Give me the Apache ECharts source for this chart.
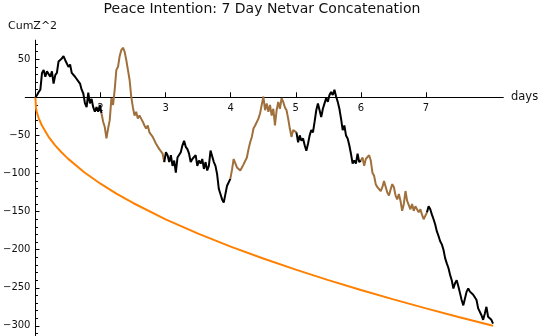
<!DOCTYPE html>
<html><head><meta charset="utf-8">
<script src="https://cdn.jsdelivr.net/npm/echarts@6/dist/echarts.min.js"></script>
<style>html,body{margin:0;padding:0;background:#fff}#c{width:540px;height:336px}</style>
</head><body><div id="c"></div>
<script>
const titleText = 'Peace Intention: 7 Day Netvar Concatenation';
const yName = 'CumZ^2';
const xName = 'days';
const xTickValues = [2, 3, 4, 5, 6, 7];
const yMajorTickValues = [-300, -250, -200, -150, -100, -50, 50];
const yLabelValues = [50, -50, -100, -150, -200, -250, -300];
const yMinorTickValues = [-310,-290,-280,-270,-260,-240,-230,-220,-210,-190,-180,-170,-160,-140,-130,-120,-110,-90,-80,-70,-60,-40,-30,-20,-10,10,20,30,40,60,70];

// cumulative walk, sampled at a regular interval starting at day 1
const walkStartDay = 1.0;
const walkStepDays = 0.02538;
const walkValues = [
  0,3,7,10,32,36,27,34,32,27,34,18,29,32,47,45,51,54,49,51,40,43,32,34,27,29,21,18,10,5,-8,-13,6,-8,-2,-13,-19,-13,-19,-10,-21,
  -32,-39,-54,-41,-30,-1,-10,10,36,40,54,62,65,60,49,36,23,1,-13,-24,-19,-28,-24,-28,-32,-37,-41,-37,-46,-48,-52,-54,-61,-63,-68,-70,-74,-85,
  -72,-76,-85,-76,-90,-83,-99,-79,-81,-72,-63,-57,-65,-68,-74,-85,-81,-83,-76,-90,-83,-87,-81,-94,-85,-96,-90,-70,-68,-85,-90,-101,-120,-127,-134,-138,-127,-116,-118,-107,
  -95,-81,-81,-92,-94,-96,-92,-88,-87,-79,-68,-59,-52,-41,-37,-39,-28,-21,-10,1,-17,-8,-19,-10,-24,-15,-37,-17,-6,-15,-1,-6,-13,-17,-28,-41,-52,-43,-41,-46,
  -59,-50,-57,-54,-63,-70,-61,-50,-43,-46,-32,-17,-8,-17,-26,-15,-8,-1,-6,3,7,3,10,1,-6,-15,-28,-43,-37,-50,-54,-63,-74,-87,-83,-87,-74,-85,-83,
  -79,-90,-81,-83,-76,-83,-99,-103,-114,-118,-116,-123,-118,-110,-112,-125,-129,-121,-114,-118,-129,-134,-127,-136,-149,-140,-123,-136,-138,-147,-140,-149,-143,-145,-151,-147,-154,-160,-158,-151,
  -143,-147,-154,-160,-167,-176,-182,-189,-193,-200,-211,-218,-224,-233,-240,-251,-244,-240,-248,-257,-266,-273,-264,-255,-251,-255,-253,-259,-257,-266,-277,-279,-286,-292,-284,-275,-288,-286,-292,-297
];
// sample indices where each new day starts
const dayBreakIndices = [40, 78, 118, 158, 197, 237];
const segmentColors = ['#000000', '#a0703c'];

// probability envelope
const envelopeDays = [1.0, 1.01, 1.02, 1.05, 1.1, 1.2, 1.3, 1.4, 1.5, 1.75, 2, 2.25, 2.5, 3, 3.5, 4, 4.5, 5, 5.5, 6, 6.5, 7, 7.5, 8, 8.03];
const envelopeValues = [0, -15, -18.7, -27.2, -37, -51.5, -62.7, -72.1, -80.5, -98.3, -113.4, -126.7, -138.7, -160.1, -178.9, -196, -211.6, -226.2, -239.9, -252.9, -265.2, -277, -288.3, -299.1, -300];

const fontFam = '"DejaVu Sans"';
const minusFmt = v => String(v).replace('-', '\u2212');

const series = [{
  type: 'line', data: envelopeDays.map((d, i) => [d, envelopeValues[i]]),
  showSymbol: false, symbol: 'none', lineStyle: { color: '#ff8000', width: 2 }, z: 2, animation: false
}];
const starts = [0].concat(dayBreakIndices);
const ends = dayBreakIndices.concat([walkValues.length - 1]);
for (let s = 0; s < starts.length; s++) {
  const data = [];
  for (let i = starts[s]; i <= ends[s]; i++) data.push([walkStartDay + i * walkStepDays, walkValues[i]]);
  series.push({
    type: 'line', data, showSymbol: false, symbol: 'none',
    lineStyle: { color: segmentColors[s % 2], width: 2 }, z: 3, animation: false
  });
}

const gridTop = 40.15, gridBottom = 0, plotH = 336 - gridTop - gridBottom;
const yMin = -313.25, yMax = 75;
const zeroOffset = -(plotH * (0 - yMin) / (yMax - yMin));

const chart = echarts.init(document.getElementById('c'));
chart.setOption({
  animation: false,
  backgroundColor: '#fff',
  grid: { left: 22.3, right: 36.7, top: gridTop, bottom: gridBottom, containLabel: false },
  xAxis: {
    type: 'value', min: 0.8443, max: 8.1878, position: 'bottom', offset: zeroOffset,
    axisLine: { show: true, onZero: false, lineStyle: { color: '#000', width: 1 } },
    axisTick: { show: true, inside: true, length: 5, customValues: xTickValues, lineStyle: { color: '#000' } },
    axisLabel: { customValues: xTickValues, margin: 6, fontSize: 10, fontFamily: fontFam, color: '#111' },
    splitLine: { show: false }
  },
  yAxis: [{
    type: 'value', min: yMin, max: yMax, position: 'left', offset: -10.2,
    axisLine: { show: true, onZero: false, lineStyle: { color: '#000', width: 1 } },
    axisTick: { show: true, inside: true, length: 4, customValues: yMajorTickValues, lineStyle: { color: '#000' } },
    axisLabel: { customValues: yLabelValues, formatter: minusFmt, margin: 5, fontSize: 10, fontFamily: fontFam, color: '#111' },
    splitLine: { show: false }
  }, {
    type: 'value', min: yMin, max: yMax, position: 'left', offset: -10.2,
    axisLine: { show: false, onZero: false },
    axisTick: { show: true, inside: true, length: 2.5, customValues: yMinorTickValues, lineStyle: { color: '#000' } },
    axisLabel: { show: false },
    splitLine: { show: false }
  }],
  graphic: [
    { type: 'text', x: 262, y: 9.5, style: { text: titleText, fill: '#111', font: '14px ' + fontFam, align: 'center', verticalAlign: 'middle' } },
    { type: 'text', x: 8, y: 26, style: { text: yName, fill: '#111', font: '11px ' + fontFam, align: 'left', verticalAlign: 'middle' } },
    { type: 'text', x: 511, y: 97, style: { text: xName, fill: '#111', font: '11.5px ' + fontFam, align: 'left', verticalAlign: 'middle' } }
  ],
  series
});
</script></body></html>
